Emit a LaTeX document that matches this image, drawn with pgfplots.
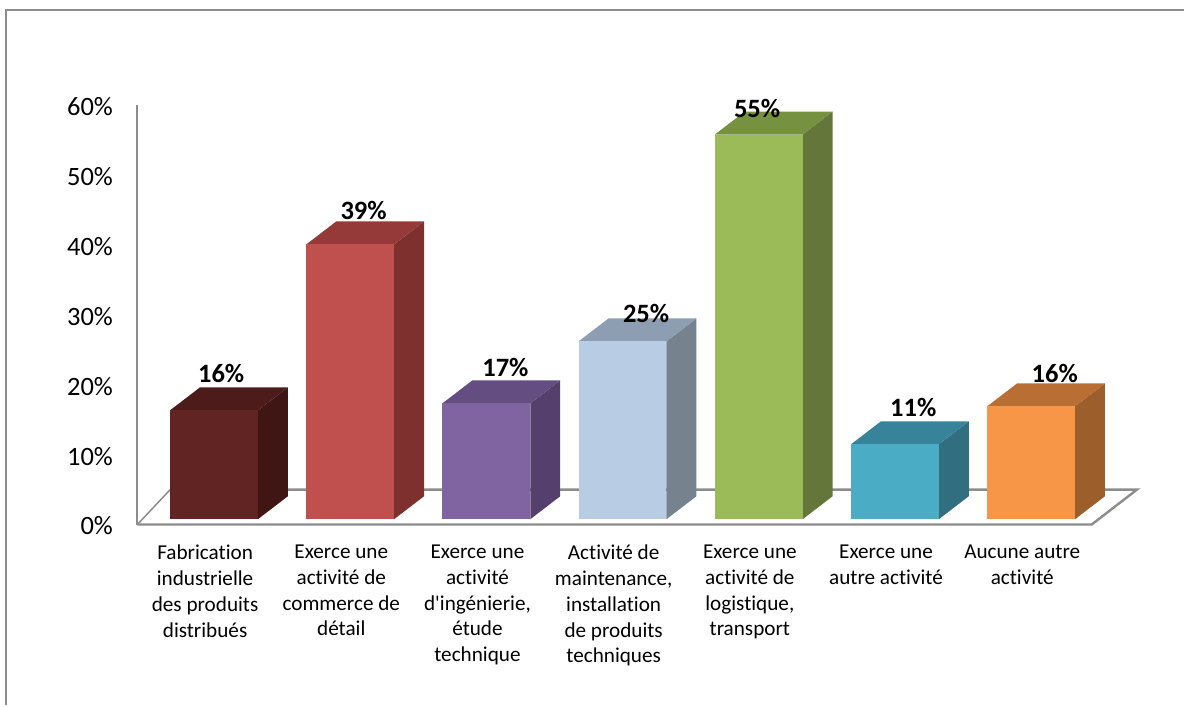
\documentclass[border=0pt]{standalone}
\usepackage{pgfplots}
\pgfplotsset{compat=1.18}
\usepackage{fontspec}
\setmainfont{Carlito}
\newfontfamily\calf[Ligatures=NoCommon]{Carlito}
\definecolor{gl}{HTML}{8C8C8C}
\definecolor{fa}{HTML}{622423}\definecolor{sa}{HTML}{3F1614}\definecolor{ta}{HTML}{4D1B19}
\definecolor{fb}{HTML}{C0504D}\definecolor{sb}{HTML}{7D302E}\definecolor{tb}{HTML}{953A38}
\definecolor{fc}{HTML}{8064A2}\definecolor{sc}{HTML}{543F6D}\definecolor{tc}{HTML}{644D80}
\definecolor{fd}{HTML}{B8CCE4}\definecolor{sd}{HTML}{76838F}\definecolor{td}{HTML}{8E9EB2}
\definecolor{fe}{HTML}{9BBB59}\definecolor{se}{HTML}{64763A}\definecolor{te}{HTML}{76913F}
\definecolor{ff}{HTML}{4BACC6}\definecolor{sf}{HTML}{306E80}\definecolor{tf}{HTML}{37839A}
\definecolor{fg}{HTML}{F79646}\definecolor{sg}{HTML}{9C5F2B}\definecolor{tg}{HTML}{B96F33}
% one 3D column: category index, value (%), front, side and top colours
\newcommand{\cube}[5]{%
  \pgfmathsetmacro{\xl}{#1-0.3215}%
  \pgfmathsetmacro{\xr}{#1+0.3235}%
  \pgfmathsetmacro{\xrb}{\xr+0.2201}%
  \pgfmathsetmacro{\xlb}{\xl+0.2201}%
  \pgfmathsetmacro{\yb}{0.757}%
  \pgfmathsetmacro{\yt}{0.757+#2}%
  \pgfmathsetmacro{\ybb}{\yb+3.286}%
  \pgfmathsetmacro{\ytb}{\yt+3.286}%
  \addplot[draw=none,fill=#4] coordinates {(\xr,\yb)(\xrb,\ybb)(\xrb,\ytb)(\xr,\yt)} --cycle;
  \addplot[draw=none,fill=#5] coordinates {(\xl,\yt)(\xr,\yt)(\xrb,\ytb)(\xlb,\ytb)} --cycle;
  \addplot[draw=none,fill=#3] coordinates {(\xl,\yb)(\xr,\yb)(\xr,\yt)(\xl,\yt)} --cycle;
}
\begin{document}
\begin{tikzpicture}[x=1pt,y=1pt]
\begin{axis}[
  scale only axis, width=1000.5pt, height=420pt,
  xmin=-0.5613, xmax=6.779, ymin=0, ymax=60,
  clip=false,
  axis x line=bottom, axis y line=left,
  x axis line style={draw=none,-},
  y axis line style={draw=gl,line width=2.2pt,-},
  major tick length=0pt,
  xtick={-0.064,0.936,1.936,2.936,3.936,4.936,5.936},
  xticklabels={
    {Fabrication\\industrielle\\des produits\\distribués},
    {Exerce une\\activité de\\commerce de\\détail},
    {Exerce une\\activité\\d'ingénierie,\\étude\\technique},
    {Activité de\\maintenance,\\installation\\de produits\\techniques},
    {Exerce une\\activité de\\logistique,\\transport},
    {Exerce une\\autre activité},
    {Aucune autre\\activité}},
  xticklabel style={align=center,anchor=north,yshift=-17pt,
    font=\calf\fontsize{21.2}{25.8}\selectfont},
  ytick={0,10,20,30,40,50,60},
  yticklabel={\pgfmathprintnumber{\tick}\%},
  /pgf/number format/assume math mode=true,
  yticklabel style={anchor=east,xshift=-21pt,yshift=-1.5pt,
    font=\calf\fontsize{26.5}{28}\selectfont},
]
% outer frame and page extent
\addplot[draw=none] coordinates {(-1.5701,-25.857)(7.1240,75)};
\addplot[draw=gl,line width=2pt] coordinates {(-1.5224,-25.857)(-1.5224,73.57)(7.1240,73.57)};
% floor
\addplot[draw=gl,line width=2.4pt] coordinates {(-0.5613,0)(6.446,0)(6.779,5)(-0.32,5)};
\addplot[draw=gl,line width=1.5pt] coordinates {(-0.5613,0)(-0.32,5)};
% columns
\cube{0}{15.57}{fa}{sa}{ta}
\cube{1}{39.29}{fb}{sb}{tb}
\cube{2}{16.57}{fc}{sc}{tc}
\cube{3}{25.43}{fd}{sd}{td}
\cube{4}{55}{fe}{se}{te}
\cube{5}{10.71}{ff}{sf}{tf}
\cube{6}{16.14}{fg}{sg}{tg}
% data labels
\begin{scope}[every node/.style={font=\calf\fontsize{26.5}{28}\selectfont\bfseries,inner sep=0pt}]
\node at (axis cs:0.0538,21.55) {16\%};
\node at (axis cs:1.1,44.85) {39\%};
\node at (axis cs:2.141,22.45) {17\%};
\node at (axis cs:3.174,30.15) {25\%};
\node at (axis cs:3.989,59.55) {55\%};
\node at (axis cs:5.136,16.75) {11\%};
\node at (axis cs:6.175,21.55) {16\%};
\end{scope}
\end{axis}
\end{tikzpicture}
\end{document}
